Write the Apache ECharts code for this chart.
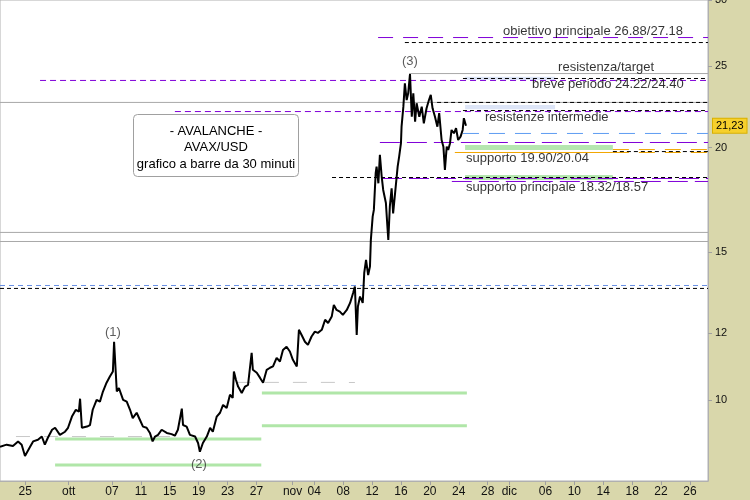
<!DOCTYPE html>
<html><head><meta charset="utf-8">
<script src="https://cdn.jsdelivr.net/npm/echarts@6/dist/echarts.min.js"></script>
<style>html,body{margin:0;padding:0;background:#d9d7ab;}#c{width:750px;height:500px;}</style>
</head><body><div id="c"></div>
<script>
// ---------- DATA ----------
const axisStart = '2023-09-21 12:00';
const axisEnd = '2023-12-28 12:00';

const priceDates = [
'2023-09-21 12:00','2023-09-22 10:00','2023-09-23 07:00','2023-09-24 00:00','2023-09-24 12:00','2023-09-24 23:00','2023-09-25 16:00','2023-09-26 02:00','2023-09-26 18:00','2023-09-27 07:00',
'2023-09-27 17:00','2023-09-28 03:00','2023-09-28 17:00','2023-09-29 03:00','2023-09-29 19:00','2023-09-30 12:00','2023-09-30 22:00','2023-10-01 11:00','2023-10-02 00:00','2023-10-02 10:00',
'2023-10-02 14:00','2023-10-02 20:00','2023-10-03 13:00','2023-10-03 23:00','2023-10-04 08:00','2023-10-04 21:00','2023-10-05 08:00','2023-10-05 18:00','2023-10-06 06:00','2023-10-06 17:00',
'2023-10-07 03:00','2023-10-07 07:00','2023-10-07 16:00','2023-10-07 23:00','2023-10-08 13:00','2023-10-09 01:00','2023-10-09 12:00','2023-10-09 21:00','2023-10-10 10:00','2023-10-10 21:00',
'2023-10-11 07:00','2023-10-11 19:00','2023-10-12 06:00','2023-10-12 15:00','2023-10-12 23:00','2023-10-13 09:00','2023-10-13 21:00','2023-10-14 14:00','2023-10-15 06:00','2023-10-15 17:00',
'2023-10-16 03:00','2023-10-16 16:00','2023-10-16 20:00','2023-10-17 08:00','2023-10-17 19:00','2023-10-18 12:00','2023-10-18 22:00','2023-10-19 04:00','2023-10-19 14:00','2023-10-20 03:00',
'2023-10-20 14:00','2023-10-20 23:00','2023-10-21 12:00','2023-10-21 23:00','2023-10-22 09:00','2023-10-22 21:00','2023-10-23 08:00','2023-10-23 17:00','2023-10-23 21:00','2023-10-24 04:00',
'2023-10-24 11:00','2023-10-24 23:00','2023-10-25 10:00','2023-10-25 20:00','2023-10-26 08:00','2023-10-26 12:00','2023-10-27 01:00','2023-10-27 12:00','2023-10-27 22:00','2023-10-28 10:00',
'2023-10-28 21:00','2023-10-29 07:00','2023-10-29 19:00','2023-10-30 06:00','2023-10-30 16:00','2023-10-31 04:00','2023-10-31 15:00','2023-11-01 01:00','2023-11-01 14:00','2023-11-01 21:00',
'2023-11-02 06:00','2023-11-02 17:00','2023-11-03 03:00','2023-11-03 15:00','2023-11-04 02:00','2023-11-04 12:00','2023-11-05 01:00','2023-11-05 12:00','2023-11-05 22:00','2023-11-06 10:00',
'2023-11-06 17:00','2023-11-07 02:00','2023-11-07 13:00','2023-11-07 23:00','2023-11-08 12:00','2023-11-08 23:00','2023-11-09 09:00','2023-11-09 15:00','2023-11-09 21:00','2023-11-10 01:00',
'2023-11-10 08:00','2023-11-10 13:00','2023-11-10 17:00','2023-11-10 22:00','2023-11-11 04:00','2023-11-11 11:00','2023-11-11 17:00','2023-11-11 20:00','2023-11-12 02:00','2023-11-12 06:00',
'2023-11-12 12:00','2023-11-12 15:00','2023-11-12 21:00','2023-11-13 02:00','2023-11-13 08:00','2023-11-13 13:00','2023-11-13 22:00','2023-11-14 03:00','2023-11-14 06:00','2023-11-14 11:00',
'2023-11-14 17:00','2023-11-14 22:00','2023-11-15 06:00','2023-11-15 13:00','2023-11-15 18:00','2023-11-16 00:00','2023-11-16 02:00','2023-11-16 08:00','2023-11-16 13:00','2023-11-16 19:00',
'2023-11-17 00:00','2023-11-17 06:00','2023-11-17 12:00','2023-11-17 17:00','2023-11-17 23:00','2023-11-18 04:00','2023-11-18 13:00','2023-11-18 21:00','2023-11-19 04:00','2023-11-19 13:00',
'2023-11-19 21:00','2023-11-20 03:00','2023-11-20 09:00','2023-11-20 17:00','2023-11-21 01:00','2023-11-21 07:00','2023-11-21 15:00','2023-11-21 21:00','2023-11-22 02:00','2023-11-22 08:00',
'2023-11-22 13:00','2023-11-22 19:00','2023-11-23 00:00','2023-11-23 08:00','2023-11-23 15:00','2023-11-23 22:00','2023-11-24 06:00','2023-11-24 13:00','2023-11-24 17:00','2023-11-25 00:00'
];
const priceValues = [
8.79,8.84,8.81,8.92,8.84,8.57,8.79,8.92,8.96,9.04,
8.84,9.01,9.21,9.26,9.08,9.16,9.26,9.55,9.73,9.68,
10.03,9.26,9.29,9.33,9.73,10.00,9.95,10.23,10.48,10.66,
10.81,11.73,10.23,10.33,10.00,9.95,9.73,9.51,9.65,9.46,
9.29,9.26,9.13,8.92,9.04,9.08,9.21,9.13,9.10,9.06,
9.21,9.76,9.33,9.29,9.08,9.04,8.88,8.67,8.88,9.04,
9.26,9.16,9.55,9.65,9.86,9.78,10.14,10.05,10.81,10.56,
10.37,10.19,10.37,10.42,11.38,10.86,10.77,10.62,10.48,10.86,
10.92,10.96,11.22,11.11,11.47,11.57,11.42,11.16,10.96,12.12,
11.95,11.73,11.63,11.90,12.06,12.02,12.12,12.46,12.35,12.57,
12.98,12.80,12.74,12.63,12.80,13.05,13.41,13.65,11.95,12.92,
13.28,13.16,13.05,14.17,14.69,14.09,14.42,15.52,16.54,16.85,
18.64,18.98,18.13,19.60,18.47,17.80,17.17,16.09,15.52,17.00,
17.88,16.69,17.88,18.98,19.51,20.24,21.18,22.38,23.86,22.79,
23.22,24.48,21.77,23.22,21.47,22.59,21.77,22.38,21.38,22.28,
22.79,23.11,22.28,21.77,21.18,21.98,20.42,20.05,18.81,20.05,
19.87,20.24,20.99,20.80,21.09,20.42,20.61,20.99,21.68,21.23
];
const lastPrice = 21.23;

const yTickValues = [10, 12, 15, 20, 25, 30];
const xTickDates = ['2023-09-25','2023-10-01','2023-10-07','2023-10-11','2023-10-15','2023-10-19','2023-10-23','2023-10-27',
  '2023-11-01','2023-11-04','2023-11-08','2023-11-12','2023-11-16','2023-11-20','2023-11-24','2023-11-28',
  '2023-12-01','2023-12-06','2023-12-10','2023-12-14','2023-12-18','2023-12-22','2023-12-26'];
const monthNames = ['gen','feb','mar','apr','mag','giu','lug','ago','set','ott','nov','dic'];

// level lines: [from, to, value]
const targetLevels = [['2023-11-12 20:00', axisEnd, 27.06]];
const blackDashLevels = [
  ['2023-11-16 13:00', axisEnd, 26.69], ['2023-11-24 14:00', axisEnd, 24.18], ['2023-11-21 00:00', axisEnd, 22.64],
  ['2023-11-24 14:00', axisEnd, 22.14], ['2023-12-15 08:00', axisEnd, 19.78], ['2023-11-06 11:00', axisEnd, 18.42],
  [axisStart, axisEnd, 13.58]];
const graySolidLevels = [['2023-11-17 03:00', axisEnd, 24.51], [axisStart, axisEnd, 22.64], [axisStart, axisEnd, 15.84], [axisStart, axisEnd, 15.45]];
const purpleDashLevels = [['2023-09-27 01:00', axisEnd, 24.05], ['2023-10-15 17:00', axisEnd, 22.08]];
const purpleSegLevels = [['2023-11-13 02:00', axisEnd, 20.28], ['2023-11-13 09:00', axisEnd, 18.37], ['2023-11-23 01:00', axisEnd, 18.22]];
const blueLongLevels = [['2023-11-24 14:00', axisEnd, 20.79]];
const blueDashLevels = [[axisStart, axisEnd, 13.69]];
const orangeSolidLevels = [['2023-11-23 11:00', '2023-12-15 08:00', 19.73]];
const orangeDashLevels = [['2023-12-15 08:00', axisEnd, 19.89], ['2023-12-15 08:00', axisEnd, 19.73]];
const grayDashLevels = [['2023-10-24 07:00', '2023-11-09 15:00', 10.49], ['2023-09-23 17:00', '2023-10-16 00:00', 9.04]];
const greenLevels = [
  ['2023-10-27 18:00', '2023-11-25 03:00', 10.19], ['2023-10-27 18:00', '2023-11-25 03:00', 9.31],
  ['2023-09-29 03:00', '2023-10-27 16:00', 8.98], ['2023-09-29 03:00', '2023-10-27 16:00', 8.36]];
// zones: [from, to, low, high]
const lavenderZones = [['2023-11-24 21:00', '2023-12-07 08:00', 24.08, 24.30], ['2023-11-24 21:00', '2023-12-07 08:00', 22.22, 22.48]];
const greenZones = [['2023-11-24 21:00', '2023-12-15 08:00', 19.87, 20.14], ['2023-11-24 21:00', '2023-12-15 08:00', 18.30, 18.55]];

const levelNotes = [
  ['obiettivo principale 26.88/27.18', '2023-11-30 03:00', 27.55],
  ['resistenza/target', '2023-12-07 18:00', 24.96],
  ['breve periodo 24.22/24.40', '2023-12-04 03:00', 23.82],
  ['resistenze intermedie', '2023-11-27 15:00', 21.72],
  ['supporto 19.90/20.04', '2023-11-25 00:00', 19.40],
  ['supporto principale 18.32/18.57', '2023-11-25 00:00', 17.92]];
const waveNotes = [['(1)', '2023-10-07 03:00', 12.02], ['(2)', '2023-10-19 01:00', 8.38], ['(3)', '2023-11-17 06:00', 25.37]];
const titleLines = ['- AVALANCHE -', 'AVAX/USD', 'grafico a barre da 30 minuti'];

// ---------- CHART ----------
const FONT = "'Liberation Sans Narrow','Liberation Sans',sans-serif";
const PURPLE = '#8000d8';
const ts = s => new Date(s.length <= 10 ? s + 'T00:00' : s.replace(' ', 'T')).getTime();
const series = [];
function addLevels(list, style, z) {
  list.forEach(([a, b, v]) => series.push({
    type: 'line', data: [[ts(a), v], [ts(b), v]], symbol: 'none', silent: true, animation: false,
    lineStyle: Object.assign({ width: 1 }, style), z: z || 2
  }));
}
function zoneData(list, color) {
  return list.map(([a, b, lo, hi]) => [{ xAxis: ts(a), yAxis: hi, itemStyle: { color } }, { xAxis: ts(b), yAxis: lo }]);
}
series.push({
  type: 'line', data: [], silent: true, z: 1, animation: false,
  markArea: { silent: true, data: zoneData(lavenderZones, '#dde5f7').concat(zoneData(greenZones, '#b5e6b0')) }
});
addLevels(greenLevels, { color: '#b0e6a8', width: 3 });
addLevels(grayDashLevels, { color: '#c8c8c8', type: [14, 14] });
addLevels(graySolidLevels, { color: '#a8a8a8' });
addLevels(purpleDashLevels, { color: PURPLE, type: [6, 4] });
addLevels(targetLevels, { color: PURPLE, type: [15, 10] }, 3);
addLevels(purpleSegLevels, { color: PURPLE, type: [20, 7] });
addLevels(blueLongLevels, { color: '#5e9cf2', type: [16, 10] });
addLevels(blueDashLevels, { color: '#6a90e4', type: [5, 4] });
addLevels(orangeSolidLevels, { color: '#f2a600' });
addLevels(orangeDashLevels, { color: '#f2a600', type: [16, 10] });
addLevels(blackDashLevels, { color: '#000000', type: [4, 3] });

series.push({
  type: 'line', name: 'AVAX/USD', data: priceDates.map((d, i) => [ts(d), priceValues[i]]),
  symbol: 'none', z: 5, animation: false, lineStyle: { color: '#000', width: 2 },
  markLine: {
    silent: true, symbol: ['none', 'none'], animation: false,
    lineStyle: { color: 'rgba(0,0,0,0)', width: 0 },
    data: [{ yAxis: lastPrice }],
    label: { show: true, position: 'end', distance: 5, formatter: lastPrice.toFixed(2).replace('.', ','),
      backgroundColor: '#f6d02c', borderColor: '#d8b000', borderWidth: 1, padding: [2, 3, 1, 3],
      color: '#000', fontSize: 11, fontFamily: "'Liberation Sans',sans-serif", opacity: 1 }
  }
});
series.push({
  type: 'scatter', symbolSize: 0, silent: true, z: 6, animation: false,
  data: levelNotes.map(([t, d, v]) => ({ value: [ts(d), v], name: t })),
  label: { show: true, position: 'right', distance: 0, formatter: p => p.name, color: '#000', fontSize: 13, fontFamily: FONT }
});
series.push({
  type: 'scatter', symbolSize: 0, silent: true, z: 6, animation: false,
  data: waveNotes.map(([t, d, v]) => ({ value: [ts(d), v], name: t })),
  label: { show: true, position: 'inside', formatter: p => p.name, color: '#333', fontSize: 13, fontFamily: FONT }
});

const chart = echarts.init(document.getElementById('c'));
chart.setOption({
  backgroundColor: '#d9d7ab',
  animation: false,
  grid: { left: 0, right: 42, top: 0, bottom: 19, show: true, containLabel: false, outerBoundsMode: 'none',
    backgroundColor: '#ffffff', borderColor: '#b0b0b0', borderWidth: 1 },
  xAxis: {
    type: 'value', min: ts(axisStart), max: ts(axisEnd),
    axisLine: { show: true, lineStyle: { color: '#b0b0b0' } },
    axisTick: { show: true, customValues: xTickDates.map(ts), length: 4, lineStyle: { color: '#a0a0a0' } },
    axisLabel: {
      customValues: xTickDates.map(ts), margin: 5, color: '#111', fontSize: 12, fontFamily: FONT,
      formatter: v => { const d = new Date(v); return d.getDate() === 1 ? monthNames[d.getMonth()] : String(d.getDate()).padStart(2, '0'); }
    },
    splitLine: { show: false }
  },
  yAxis: {
    type: 'log', logBase: 10, min: 8, max: 30, position: 'right',
    axisLine: { show: true, lineStyle: { color: '#b0b0b0' } },
    axisTick: { show: true, customValues: yTickValues, length: 4, lineStyle: { color: '#a0a0a0' } },
    axisLabel: { customValues: yTickValues, margin: 7, color: '#111', fontSize: 11, fontFamily: "'Liberation Sans',sans-serif" },
    splitLine: { show: false }
  },
  graphic: [{
    type: 'group', left: 133, top: 114,
    children: [
      { type: 'rect', shape: { x: 0.5, y: 0.5, width: 165, height: 62, r: 4 }, style: { fill: '#fff', stroke: '#a0a0a0', lineWidth: 1 } },
      { type: 'text', x: 83, y: 17, style: { text: titleLines[0], align: 'center', verticalAlign: 'middle', fontSize: 13, fontFamily: FONT, fill: '#000' } },
      { type: 'text', x: 83, y: 33, style: { text: titleLines[1], align: 'center', verticalAlign: 'middle', fontSize: 13, fontFamily: FONT, fill: '#000' } },
      { type: 'text', x: 83, y: 50, style: { text: titleLines[2], align: 'center', verticalAlign: 'middle', fontSize: 13, fontFamily: FONT, fill: '#000' } }
    ]
  }],
  series
});
</script></body></html>
